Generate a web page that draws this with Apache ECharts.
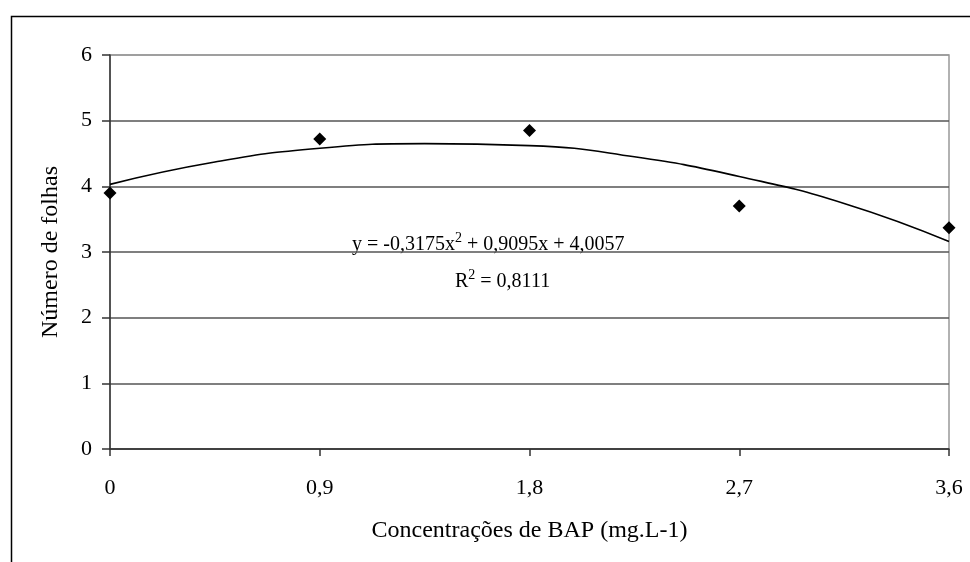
<!DOCTYPE html>
<html><head><meta charset="utf-8">
<script src="https://cdn.jsdelivr.net/npm/echarts@6/dist/echarts.min.js"></script>
<style>html,body{margin:0;padding:0;background:#fff}#c{width:970px;height:562px}</style>
</head><body><div id="c"></div>
<script>
const xTicks = [0, 0.9, 1.8, 2.7, 3.6];
const yTicks = [0, 1, 2, 3, 4, 5, 6];
const observedX = [0, 0.9, 1.8, 2.7, 3.6];
const observedY = [3.9, 4.72, 4.85, 3.7, 3.37];
const trendX = [0, 0.45, 0.9, 1.35, 1.8, 2.25, 2.7, 3.15, 3.6];
const trendY = [4.03, 4.37, 4.58, 4.65, 4.62, 4.45, 4.15, 3.74, 3.16];
const equationText = 'y = -0,3175x{s|2} + 0,9095x + 4,0057';
const r2Text = 'R{s|2} = 0,8111';
const xTitle = 'Concentrações de BAP (mg.L-1)';
const yTitle = 'Número de folhas';

const font = 'Liberation Serif, Times New Roman, serif';
const chart = echarts.init(document.getElementById('c'), null, {renderer: 'canvas'});
const fmt = v => String(Math.round(v * 10) / 10).replace('.', ',');
chart.setOption({
  animation: false,
  backgroundColor: '#fff',
  grid: {left: 110, top: 55, right: 21, bottom: 113, show: true, borderColor: '#999', borderWidth: 1.5},
  xAxis: {
    type: 'value', min: xTicks[0], max: xTicks[xTicks.length - 1], interval: 0.9,
    axisLine: {show: true, onZero: false, lineStyle: {color: '#333', width: 1.5}},
    axisTick: {show: true, length: 7, lineStyle: {color: '#333', width: 1.5}},
    axisLabel: {formatter: fmt, color: '#000', fontFamily: font, fontSize: 22, margin: 28},
    splitLine: {show: false},
    name: xTitle, nameLocation: 'middle', nameGap: 70,
    nameTextStyle: {color: '#000', fontFamily: font, fontSize: 24}
  },
  yAxis: {
    type: 'value', min: yTicks[0], max: yTicks[yTicks.length - 1], interval: 1,
    axisLine: {show: true, lineStyle: {color: '#333', width: 1.5}},
    axisTick: {show: true, length: 8, lineStyle: {color: '#333', width: 1.5}},
    axisLabel: {color: '#000', fontFamily: font, fontSize: 22, margin: 18},
    splitLine: {show: true, lineStyle: {color: ['#555','#555','#555','#555','#555','#555','#999'], width: 1.5}},
    name: yTitle, nameLocation: 'middle', nameGap: 47, nameRotate: 90,
    nameTextStyle: {color: '#000', fontFamily: font, fontSize: 24}
  },
  graphic: [
    {type: 'rect', left: 9, top: 14, shape: {width: 1000, height: 600},
     style: {fill: 'none', stroke: '#000', lineWidth: 1.5}, silent: true, z: -1},
    {type: 'text', left: 352, top: 231,
     style: {text: equationText, fill: '#000', font: '20px ' + font,
       rich: {s: {fontSize: 14, fontFamily: font, verticalAlign: 'top', padding: [0,0,14,0]}}}},
    {type: 'text', left: 455, top: 268,
     style: {text: r2Text, fill: '#000', font: '20px ' + font,
       rich: {s: {fontSize: 14, fontFamily: font, verticalAlign: 'top', padding: [0,0,14,0]}}}}
  ],
  series: [
    {type: 'line', data: trendX.map((x, i) => [x, trendY[i]]), smooth: true, symbol: 'none',
     lineStyle: {color: '#000', width: 1.6}, z: 3},
    {type: 'scatter', data: observedX.map((x, i) => [x, observedY[i]]), symbol: 'diamond',
     symbolSize: 13, itemStyle: {color: '#000', opacity: 1}, z: 4, clip: false}
  ]
});
</script></body></html>
